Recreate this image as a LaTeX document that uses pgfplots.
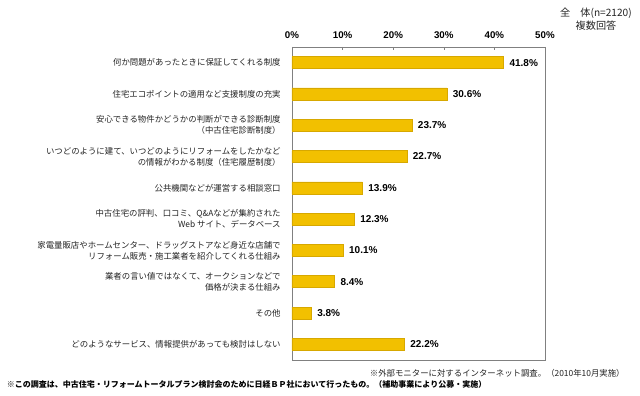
\documentclass[border=0pt]{standalone}
\usepackage{pgfplots}
\pgfplotsset{compat=1.18}
\usepackage{fontspec}
\setmainfont{Liberation Sans}
\newfontfamily\jp{Noto Sans CJK JP}
\definecolor{barfill}{RGB}{242,192,0}
\definecolor{baredge}{RGB}{215,168,0}
\definecolor{labgray}{RGB}{35,35,35}
\begin{document}
\begin{tikzpicture}
\useasboundingbox (0,0) rectangle (480pt,297pt);
\begin{axis}[
  at={(219pt,27pt)}, anchor=south west,
  width=189.75pt, height=234.75pt, scale only axis,
  /pgf/number format/assume math mode=true,
  xmin=0, xmax=50, ymin=-0.5, ymax=9.5,
  y dir=reverse,
  xtick={0,10,20,30,40,50},
  xticklabels={0\%,10\%,20\%,30\%,40\%,50\%},
  xtick pos=upper, xticklabel pos=upper,
  tick align=inside, major tick length=2pt,
  axis line style={draw=gray},
  tick style={draw=gray},
  xticklabel style={font=\fontsize{7.3}{8}\selectfont\bfseries, yshift=3pt},
  ytick={0,...,9},
  ytick style={draw=none},
  yticklabel style={font=\jp\fontsize{6.3}{8.25}\selectfont, align=right, text=labgray, xshift=-3pt},
  yticklabels={何か問題があったときに保証してくれる制度,
    住宅エコポイントの適用など支援制度の充実,
    {安心できる物件かどうかの判断ができる診断制度\\（中古住宅診断制度）},
    {いつどのように建て、いつどのようにリフォームをしたかなど\\の情報がわかる制度（住宅履歴制度）},
    公共機関などが運営する相談窓口,
    {中古住宅の評判、口コミ、Q\&Aなどが集約された\\Web サイト、データベース},
    {家電量販店やホームセンター、ドラッグストアなど身近な店舗で\\リフォーム販売・施工業者を紹介してくれる仕組み},
    {業者の言い値ではなくて、オークションなどで\\価格が決まる仕組み},
    その他,
    どのようなサービス、情報提供があっても検討はしない},
  xbar, bar width=9pt,
  nodes near coords={\pgfmathprintnumber[fixed,fixed zerofill,precision=1,assume math mode=true]{\pgfplotspointmeta}\%},
  nodes near coords style={font=\fontsize{7.5}{8}\selectfont\bfseries, anchor=west, xshift=1pt},
  point meta=explicit,
  clip=false,
]
\addplot[fill=barfill, draw=baredge] table[x=v, y=y, meta=v] {
y v
0 41.8
1 30.6
2 23.7
3 22.7
4 13.9
5 12.3
6 10.1
7 8.4
8 3.8
9 22.2
};
\end{axis}
\node[font=\jp\fontsize{7.6}{9}\selectfont, text=labgray] at (447pt,287pt) {全　体(n=2120)};
\node[font=\jp\fontsize{7.6}{9}\selectfont, text=labgray] at (447pt,278pt) {複数回答};
\node[font=\jp\fontsize{6.3}{8}\selectfont, anchor=east, text=labgray] at (472pt,17pt) {※外部モニターに対するインターネット調査。（2010年10月実施）};
\node[font=\jp\fontsize{6}{8}\selectfont\bfseries, anchor=west, inner sep=0pt] at (5pt,9pt) {※この調査は、中古住宅・リフォームトータルプラン検討会のために日経ＢＰ社において行ったもの。（補助事業により公募・実施）};
\end{tikzpicture}
\end{document}
